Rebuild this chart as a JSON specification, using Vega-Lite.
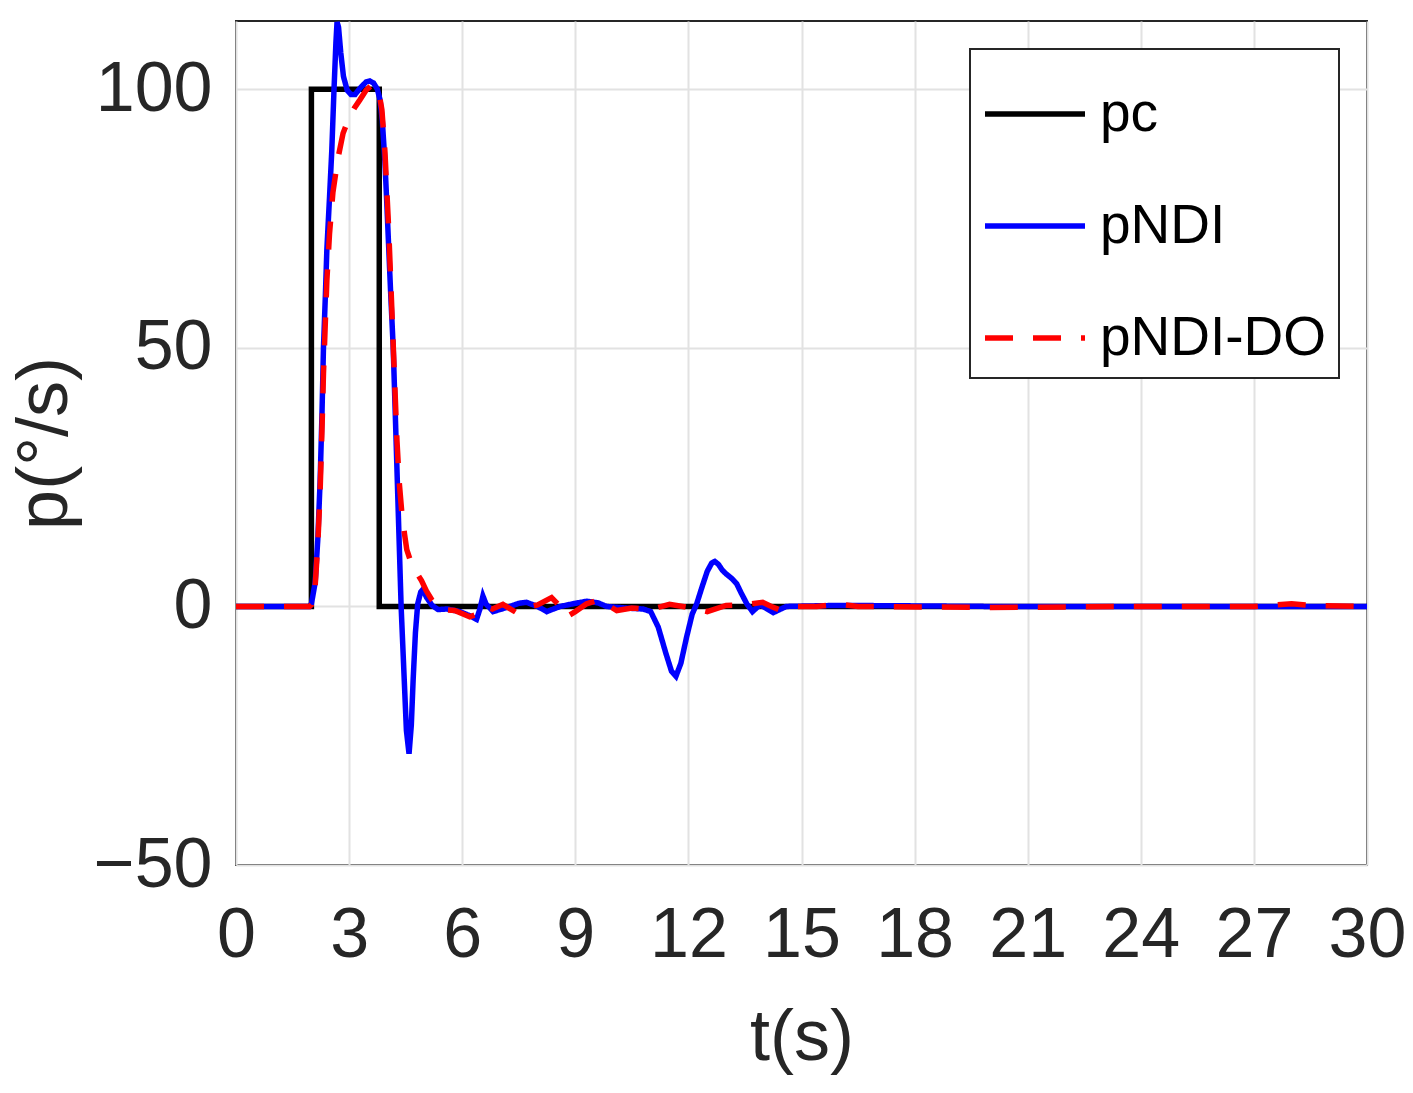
{
  "$schema": "https://vega.github.io/schema/vega-lite/v6.json",
  "autosize": "none",
  "width": 1131,
  "height": 844,
  "padding": {"left": 236, "top": 21, "right": 46, "bottom": 228},
  "background": "white",
  "config": {
    "view": {"stroke": "#262626", "strokeWidth": 2},
    "font": "Liberation Sans",
    "axis": {
      "labelFont": "Liberation Sans",
      "titleFont": "Liberation Sans",
      "labelColor": "#262626",
      "titleColor": "#262626",
      "labelFontSize": 70,
      "titleFontSize": 72,
      "titleFontWeight": "normal",
      "grid": true,
      "gridColor": "#e2e2e2",
      "gridWidth": 2,
      "domain": false,
      "ticks": false
    },
    "legend": {
      "orient": "top-right",
      "offset": 28,
      "fillColor": "white",
      "strokeColor": "#262626",
      "strokeWidth": 2,
      "padding": 12,
      "rowPadding": 31,
      "labelFont": "Liberation Sans",
      "labelFontSize": 55,
      "labelColor": "#000000",
      "labelOffset": 12,
      "symbolType": "stroke",
      "symbolSize": 10000,
      "symbolStrokeWidth": 5.5,
      "labelLimit": 400
    }
  },
  "datasets": {
    "series": [
      {"s": "pc", "t": 0, "v": 0},
      {"s": "pc", "t": 2, "v": 0},
      {"s": "pc", "t": 2, "v": 100},
      {"s": "pc", "t": 3.8, "v": 100},
      {"s": "pc", "t": 3.8, "v": 0},
      {"s": "pc", "t": 30, "v": 0},

      {"s": "pNDI", "t": 0, "v": 0},
      {"s": "pNDI", "t": 1.95, "v": 0},
      {"s": "pNDI", "t": 2.0, "v": 0.5},
      {"s": "pNDI", "t": 2.1, "v": 4.6},
      {"s": "pNDI", "t": 2.17, "v": 13},
      {"s": "pNDI", "t": 2.23, "v": 24},
      {"s": "pNDI", "t": 2.28, "v": 37},
      {"s": "pNDI", "t": 2.32, "v": 50},
      {"s": "pNDI", "t": 2.37, "v": 60},
      {"s": "pNDI", "t": 2.41, "v": 69},
      {"s": "pNDI", "t": 2.48, "v": 79},
      {"s": "pNDI", "t": 2.54, "v": 88},
      {"s": "pNDI", "t": 2.6, "v": 100},
      {"s": "pNDI", "t": 2.65, "v": 109},
      {"s": "pNDI", "t": 2.68, "v": 113},
      {"s": "pNDI", "t": 2.72, "v": 112},
      {"s": "pNDI", "t": 2.78, "v": 107},
      {"s": "pNDI", "t": 2.85, "v": 102.5},
      {"s": "pNDI", "t": 2.95, "v": 99.8},
      {"s": "pNDI", "t": 3.05, "v": 99},
      {"s": "pNDI", "t": 3.16, "v": 99},
      {"s": "pNDI", "t": 3.3, "v": 100.3},
      {"s": "pNDI", "t": 3.45, "v": 101.4},
      {"s": "pNDI", "t": 3.55, "v": 101.6},
      {"s": "pNDI", "t": 3.65, "v": 101.2},
      {"s": "pNDI", "t": 3.75, "v": 100},
      {"s": "pNDI", "t": 3.82, "v": 98},
      {"s": "pNDI", "t": 3.88, "v": 94},
      {"s": "pNDI", "t": 3.95, "v": 86},
      {"s": "pNDI", "t": 4.0, "v": 78},
      {"s": "pNDI", "t": 4.1, "v": 61},
      {"s": "pNDI", "t": 4.17, "v": 50},
      {"s": "pNDI", "t": 4.23, "v": 36},
      {"s": "pNDI", "t": 4.28, "v": 24},
      {"s": "pNDI", "t": 4.33, "v": 12},
      {"s": "pNDI", "t": 4.38, "v": 0},
      {"s": "pNDI", "t": 4.45, "v": -12},
      {"s": "pNDI", "t": 4.52, "v": -24},
      {"s": "pNDI", "t": 4.59, "v": -28.5},
      {"s": "pNDI", "t": 4.65, "v": -23},
      {"s": "pNDI", "t": 4.7, "v": -14},
      {"s": "pNDI", "t": 4.76, "v": -5},
      {"s": "pNDI", "t": 4.82, "v": 0.5},
      {"s": "pNDI", "t": 4.9, "v": 2.8},
      {"s": "pNDI", "t": 4.96, "v": 3.3},
      {"s": "pNDI", "t": 5.05, "v": 1.8},
      {"s": "pNDI", "t": 5.2, "v": 0.2},
      {"s": "pNDI", "t": 5.36, "v": -0.6},
      {"s": "pNDI", "t": 5.6, "v": -0.5},
      {"s": "pNDI", "t": 5.94, "v": -1},
      {"s": "pNDI", "t": 6.2, "v": -1.8},
      {"s": "pNDI", "t": 6.38, "v": -2.5},
      {"s": "pNDI", "t": 6.47, "v": -0.5},
      {"s": "pNDI", "t": 6.55, "v": 2},
      {"s": "pNDI", "t": 6.63, "v": 0.5},
      {"s": "pNDI", "t": 6.82, "v": -1},
      {"s": "pNDI", "t": 7.05, "v": -0.5},
      {"s": "pNDI", "t": 7.27, "v": 0},
      {"s": "pNDI", "t": 7.5, "v": 0.6},
      {"s": "pNDI", "t": 7.7, "v": 0.8},
      {"s": "pNDI", "t": 8.0, "v": 0},
      {"s": "pNDI", "t": 8.24, "v": -1},
      {"s": "pNDI", "t": 8.6, "v": 0},
      {"s": "pNDI", "t": 9.0, "v": 0.6},
      {"s": "pNDI", "t": 9.3, "v": 1},
      {"s": "pNDI", "t": 9.6, "v": 0.7},
      {"s": "pNDI", "t": 9.83, "v": 0},
      {"s": "pNDI", "t": 10.3, "v": -0.3},
      {"s": "pNDI", "t": 10.8, "v": -0.5},
      {"s": "pNDI", "t": 11.0, "v": -1},
      {"s": "pNDI", "t": 11.2, "v": -4},
      {"s": "pNDI", "t": 11.4, "v": -9},
      {"s": "pNDI", "t": 11.55, "v": -12.5},
      {"s": "pNDI", "t": 11.67, "v": -13.5},
      {"s": "pNDI", "t": 11.8, "v": -11},
      {"s": "pNDI", "t": 11.95, "v": -6},
      {"s": "pNDI", "t": 12.1, "v": -1.5},
      {"s": "pNDI", "t": 12.22, "v": 0.5},
      {"s": "pNDI", "t": 12.35, "v": 3.5},
      {"s": "pNDI", "t": 12.5, "v": 6.8},
      {"s": "pNDI", "t": 12.62, "v": 8.4},
      {"s": "pNDI", "t": 12.7, "v": 8.7},
      {"s": "pNDI", "t": 12.8, "v": 8.1},
      {"s": "pNDI", "t": 12.9, "v": 7},
      {"s": "pNDI", "t": 13.0, "v": 6.3},
      {"s": "pNDI", "t": 13.15, "v": 5.4},
      {"s": "pNDI", "t": 13.28, "v": 4.4},
      {"s": "pNDI", "t": 13.4, "v": 2.6},
      {"s": "pNDI", "t": 13.55, "v": 0.5},
      {"s": "pNDI", "t": 13.7, "v": -1},
      {"s": "pNDI", "t": 13.9, "v": 0.3},
      {"s": "pNDI", "t": 14.05, "v": -0.3},
      {"s": "pNDI", "t": 14.25, "v": -1.2},
      {"s": "pNDI", "t": 14.45, "v": -0.5},
      {"s": "pNDI", "t": 14.6, "v": 0},
      {"s": "pNDI", "t": 16, "v": 0.2},
      {"s": "pNDI", "t": 20, "v": 0},
      {"s": "pNDI", "t": 30, "v": 0},

      {"s": "pNDI-DO", "t": 0, "v": 0},
      {"s": "pNDI-DO", "t": 1.95, "v": 0},
      {"s": "pNDI-DO", "t": 2.0, "v": 0.3},
      {"s": "pNDI-DO", "t": 2.1, "v": 4},
      {"s": "pNDI-DO", "t": 2.17, "v": 12},
      {"s": "pNDI-DO", "t": 2.23, "v": 22},
      {"s": "pNDI-DO", "t": 2.28, "v": 34},
      {"s": "pNDI-DO", "t": 2.32, "v": 45},
      {"s": "pNDI-DO", "t": 2.37, "v": 55},
      {"s": "pNDI-DO", "t": 2.41, "v": 63},
      {"s": "pNDI-DO", "t": 2.48, "v": 72},
      {"s": "pNDI-DO", "t": 2.57, "v": 80},
      {"s": "pNDI-DO", "t": 2.7, "v": 86.5},
      {"s": "pNDI-DO", "t": 2.84, "v": 91.5},
      {"s": "pNDI-DO", "t": 3.0, "v": 94.5},
      {"s": "pNDI-DO", "t": 3.15, "v": 96.5},
      {"s": "pNDI-DO", "t": 3.29, "v": 98},
      {"s": "pNDI-DO", "t": 3.45, "v": 99.8},
      {"s": "pNDI-DO", "t": 3.6, "v": 100.8},
      {"s": "pNDI-DO", "t": 3.7, "v": 100.5},
      {"s": "pNDI-DO", "t": 3.8, "v": 99},
      {"s": "pNDI-DO", "t": 3.87, "v": 96},
      {"s": "pNDI-DO", "t": 3.95, "v": 88},
      {"s": "pNDI-DO", "t": 4.05, "v": 73},
      {"s": "pNDI-DO", "t": 4.12, "v": 60},
      {"s": "pNDI-DO", "t": 4.2, "v": 45},
      {"s": "pNDI-DO", "t": 4.27, "v": 32},
      {"s": "pNDI-DO", "t": 4.33, "v": 24},
      {"s": "pNDI-DO", "t": 4.4, "v": 18},
      {"s": "pNDI-DO", "t": 4.47, "v": 14},
      {"s": "pNDI-DO", "t": 4.53, "v": 11},
      {"s": "pNDI-DO", "t": 4.62, "v": 9},
      {"s": "pNDI-DO", "t": 4.75, "v": 7},
      {"s": "pNDI-DO", "t": 4.92, "v": 5},
      {"s": "pNDI-DO", "t": 5.05, "v": 3},
      {"s": "pNDI-DO", "t": 5.2, "v": 1.2},
      {"s": "pNDI-DO", "t": 5.4, "v": -0.6},
      {"s": "pNDI-DO", "t": 5.8, "v": -0.8},
      {"s": "pNDI-DO", "t": 6.2, "v": -2},
      {"s": "pNDI-DO", "t": 6.4, "v": -1.5},
      {"s": "pNDI-DO", "t": 6.6, "v": 0},
      {"s": "pNDI-DO", "t": 6.8, "v": -0.5},
      {"s": "pNDI-DO", "t": 7.08, "v": 0.4},
      {"s": "pNDI-DO", "t": 7.44, "v": -1.2},
      {"s": "pNDI-DO", "t": 7.7, "v": -0.2},
      {"s": "pNDI-DO", "t": 8.0, "v": 0.3},
      {"s": "pNDI-DO", "t": 8.37, "v": 1.7},
      {"s": "pNDI-DO", "t": 8.6, "v": 0},
      {"s": "pNDI-DO", "t": 8.77, "v": -2},
      {"s": "pNDI-DO", "t": 9.0, "v": -1},
      {"s": "pNDI-DO", "t": 9.3, "v": 0.5},
      {"s": "pNDI-DO", "t": 9.65, "v": 1.3},
      {"s": "pNDI-DO", "t": 9.85, "v": 0.3},
      {"s": "pNDI-DO", "t": 10.1, "v": -0.8},
      {"s": "pNDI-DO", "t": 10.5, "v": -0.3},
      {"s": "pNDI-DO", "t": 10.98, "v": -0.6},
      {"s": "pNDI-DO", "t": 11.5, "v": 0.4},
      {"s": "pNDI-DO", "t": 12.0, "v": -0.2},
      {"s": "pNDI-DO", "t": 12.5, "v": -1},
      {"s": "pNDI-DO", "t": 13.0, "v": 0.2},
      {"s": "pNDI-DO", "t": 13.5, "v": 0.3},
      {"s": "pNDI-DO", "t": 13.97, "v": 0.8},
      {"s": "pNDI-DO", "t": 14.2, "v": 0},
      {"s": "pNDI-DO", "t": 14.4, "v": -0.6},
      {"s": "pNDI-DO", "t": 14.7, "v": 0},
      {"s": "pNDI-DO", "t": 15.4, "v": 0},
      {"s": "pNDI-DO", "t": 16.0, "v": 0.4},
      {"s": "pNDI-DO", "t": 16.5, "v": 0},
      {"s": "pNDI-DO", "t": 20, "v": -0.2},
      {"s": "pNDI-DO", "t": 24, "v": 0},
      {"s": "pNDI-DO", "t": 27, "v": 0},
      {"s": "pNDI-DO", "t": 28, "v": 0.5},
      {"s": "pNDI-DO", "t": 28.5, "v": 0.2},
      {"s": "pNDI-DO", "t": 30, "v": 0}
    ]
  },
  "data": {"name": "series"},
  "encoding": {
    "x": {
      "field": "t",
      "type": "quantitative",
      "title": "t(s)",
      "scale": {"domain": [0, 30], "nice": false, "zero": false},
      "axis": {
        "values": [0, 3, 6, 9, 12, 15, 18, 21, 24, 27, 30],
        "labelPadding": 36,
        "titlePadding": 32,
        "labelFlush": false
      }
    },
    "y": {
      "field": "v",
      "type": "quantitative",
      "title": "p(°/s)",
      "scale": {"domain": [-50, 113.2], "nice": false, "zero": false},
      "axis": {
        "values": [-50, 0, 50, 100],
        "labelPadding": 24,
        "titlePadding": 12
      }
    },
    "color": {
      "field": "s",
      "type": "nominal",
      "title": null,
      "scale": {
        "domain": ["pc", "pNDI", "pNDI-DO"],
        "range": ["#000000", "#0000ff", "#ff0000"]
      }
    },
    "strokeDash": {
      "field": "s",
      "type": "nominal",
      "title": null,
      "scale": {
        "domain": ["pc", "pNDI", "pNDI-DO"],
        "range": [[1, 0], [1, 0], [28, 20]]
      }
    },
    "order": {"value": null}
  },
  "layer": [
    {
      "transform": [{"filter": "datum.s === 'pc'"}],
      "mark": {"type": "line", "strokeWidth": 5.5, "clip": true}
    },
    {
      "transform": [{"filter": "datum.s === 'pNDI'"}],
      "mark": {"type": "line", "strokeWidth": 5.5, "clip": true}
    },
    {
      "transform": [{"filter": "datum.s === 'pNDI-DO'"}],
      "mark": {"type": "line", "strokeWidth": 5.5, "clip": true}
    }
  ]
}
